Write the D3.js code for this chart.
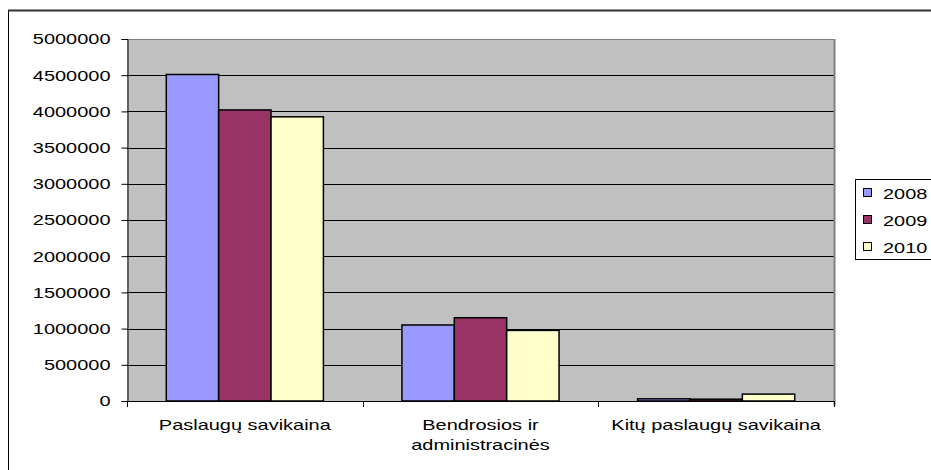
<!DOCTYPE html>
<html>
<head>
<meta charset="utf-8">
<script src="https://cdn.jsdelivr.net/npm/d3@7/dist/d3.min.js"></script>
<style>
  html, body { margin: 0; padding: 0; background: #fff; }
  svg { display: block; }
  text { font-family: "Liberation Sans", Arial, sans-serif; font-size: 15px; fill: #000; }
</style>
</head>
<body>
<svg id="chart" width="931" height="470"></svg>
<script>
// Cost categories and yearly values (EUR/Lt)
const categories = ["Paslaugų savikaina", "Bendrosios ir administracinės", "Kitų paslaugų savikaina"];
const categoryLines = [["Paslaugų savikaina"], ["Bendrosios ir", "administracinės"], ["Kitų paslaugų savikaina"]];
const years = ["2008", "2009", "2010"];
const values2008 = [4510000, 1050000, 30000];
const values2009 = [4020000, 1150000, 25000];
const values2010 = [3925000, 975000, 95000];
const yTicks = [0, 500000, 1000000, 1500000, 2000000, 2500000, 3000000, 3500000, 4000000, 4500000, 5000000];
const colors = ["#9999FF", "#993366", "#FFFFCC"];

const seriesValues = [values2008, values2009, values2010];

const svg = d3.select("#chart");
const plot = { left: 127, top: 39, right: 834, bottom: 401 };

// outer chart frame
svg.append("line").attr("x1", 8.5).attr("y1", 10.5).attr("x2", 8.5).attr("y2", 470)
  .attr("stroke", "#000").attr("stroke-width", 1);
svg.append("line").attr("x1", 8).attr("y1", 10.5).attr("x2", 931).attr("y2", 10.5)
  .attr("stroke", "#333").attr("stroke-width", 2);

const y = d3.scaleLinear().domain([0, 5000000]).range([plot.bottom, plot.top]);
const x0 = d3.scaleBand().domain(categories).range([plot.left, plot.right]).padding(0);
const W = x0.bandwidth();
const x1 = d3.scaleBand().domain(years).range([W / 6, W - W / 6]).padding(0);

// plot area background
svg.append("rect")
  .attr("x", plot.left).attr("y", plot.top)
  .attr("width", plot.right - plot.left).attr("height", plot.bottom - plot.top)
  .attr("fill", "#C0C0C0");

// horizontal gridlines
svg.append("g").selectAll("line").data(yTicks.filter(d => d > 0)).join("line")
  .attr("x1", plot.left).attr("x2", plot.right)
  .attr("y1", d => Math.round(y(d)) + 0.5).attr("y2", d => Math.round(y(d)) + 0.5)
  .attr("stroke", d => d === 5000000 ? "#808080" : "#000").attr("stroke-width", 1);

// right border of plot area
svg.append("line").attr("x1", plot.right + 0.5).attr("x2", plot.right + 0.5)
  .attr("y1", plot.top).attr("y2", plot.bottom + 5)
  .attr("stroke", "#808080").attr("stroke-width", 2);

// bars
const groups = svg.append("g").selectAll("g").data(categories).join("g")
  .attr("transform", d => `translate(${x0(d)},0)`);
groups.selectAll("rect")
  .data((c, i) => years.map((yr, s) => ({ yr, s, v: seriesValues[s][i] })))
  .join("rect")
  .attr("x", d => x1(d.yr))
  .attr("width", x1.bandwidth())
  .attr("y", d => y(d.v))
  .attr("height", d => y(0) - y(d.v))
  .attr("fill", d => colors[d.s])
  .attr("stroke", "#000").attr("stroke-width", 1.5);

// y axis
const yAxis = d3.axisLeft(y).tickValues(yTicks).tickSize(6).tickPadding(11).tickFormat(d3.format("d"));
const gy = svg.append("g").attr("transform", `translate(${plot.left + 0.5},0)`).call(yAxis);
gy.select(".domain").attr("stroke", "#000");
gy.selectAll(".tick line").attr("stroke", "#000");
gy.selectAll("text").style("font-size", "15px").style("font-family", "'Liberation Sans', Arial, sans-serif").attr("fill", "#000");

// x axis line and category ticks
svg.append("line").attr("x1", plot.left).attr("x2", plot.right + 1)
  .attr("y1", plot.bottom + 0.5).attr("y2", plot.bottom + 0.5)
  .attr("stroke", "#000").attr("stroke-width", 1);
const bounds = categories.map(c => x0(c)).concat([plot.right]);
svg.append("g").selectAll("line").data(bounds).join("line")
  .attr("x1", d => Math.round(d) + 0.5).attr("x2", d => Math.round(d) + 0.5)
  .attr("y1", plot.bottom).attr("y2", plot.bottom + 6)
  .attr("stroke", "#000");

// category labels
categories.forEach((c, i) => {
  categoryLines[i].forEach((line, j) => {
    svg.append("text")
      .attr("x", x0(c) + W / 2)
      .attr("y", 430 + j * 20)
      .attr("text-anchor", "middle")
      .text(line);
  });
});

// legend
const legend = svg.append("g");
legend.append("rect").attr("x", 855.5).attr("y", 179.5).attr("width", 100).attr("height", 80)
  .attr("fill", "#fff").attr("stroke", "#000");
years.forEach((yr, i) => {
  const cy = 193 + i * 27;
  legend.append("rect").attr("x", 863.5).attr("y", cy - 4.5).attr("width", 8).attr("height", 8)
    .attr("fill", colors[i]).attr("stroke", "#000");
  legend.append("text").attr("x", 883).attr("y", cy + 5.5).text(yr);
});

// widen glyphs horizontally to the chart's stretched text style
svg.selectAll("text").each(function () {
  const len = this.getComputedTextLength();
  d3.select(this).attr("textLength", len * 1.33).attr("lengthAdjust", "spacingAndGlyphs");
});
</script>
</body>
</html>
